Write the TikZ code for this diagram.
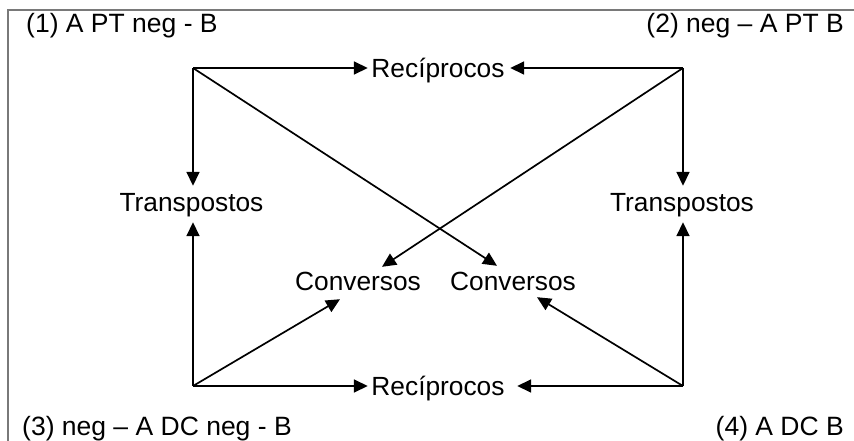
\documentclass[tikz,border=0pt]{standalone}
\usepackage{fontspec}
\setmainfont{Liberation Sans}
\usetikzlibrary{arrows.meta}
\tikzset{
  lbl/.style={font=\fontsize{26.3}{31}\selectfont, inner sep=0pt, text height=19pt, text depth=0pt},
  corner/.style={lbl, font=\fontsize{26.5}{31}\selectfont},
  arr/.style={-{Triangle[length=14pt,width=13pt]}, line width=1.7pt, black},
  frame/.style={draw=gray!95!black, line width=2pt}
}
\begin{document}
\begin{tikzpicture}[x=1pt,y=-1pt]
\useasboundingbox (0,0) rectangle (854,441);
\draw[frame] (8.3,441) -- (8.3,10) -- (854,10);
% corners
\coordinate (c1) at (193,68);
\coordinate (c2) at (683,68);
\coordinate (c3) at (193,386);
\coordinate (c4) at (683,386);
% corner labels
\node[corner, anchor=base west] (l1) at (26,33) {(1) A PT neg - B};
\node[corner, anchor=base east] (l2) at (844,33) {(2) neg – A PT B};
\node[corner, anchor=base west] (l3) at (22,435) {(3) neg – A DC neg - B};
\node[corner, anchor=base east] (l4) at (844,435) {(4) A DC B};
% inner labels
\node[lbl, anchor=base] (rt) at (438,77.5) {Recíprocos};
\node[lbl, anchor=base] (rb) at (438,395.5) {Recíprocos};
\node[lbl, anchor=base] (tl) at (191.5,211) {Transpostos};
\node[lbl, anchor=base] (tr) at (682,211) {Transpostos};
\node[lbl, anchor=base] (cl) at (358,290) {Conversos};
\node[lbl, anchor=base] (cr) at (513,290) {Conversos};
% connectors
\draw[arr] (c1) -- ([xshift=-3.5pt]rt.west);
\draw[arr] (c2) -- ([xshift=5.5pt]rt.east);
\draw[arr] (c3) -- ([xshift=-3.5pt]rb.west);
\draw[arr] (c4) -- ([xshift=12.5pt]rb.east);
\draw[arr] (c1) -- ([xshift=1.5pt,yshift=6pt]tl.north);
\draw[arr] (c3) -- ([xshift=1.5pt,yshift=-11pt]tl.south);
\draw[arr] (c2) -- ([xshift=1pt,yshift=6pt]tr.north);
\draw[arr] (c4) -- ([xshift=1pt,yshift=-11pt]tr.south);
\draw[arr] (c1) -- ([xshift=-16pt,yshift=5pt]cr.north);
\draw[arr] (c2) -- ([xshift=24pt,yshift=4pt]cl.north);
\draw[arr] (c3) -- ([xshift=-18pt,yshift=-9pt]cl.south);
\draw[arr] (c4) -- ([xshift=24pt,yshift=-7pt]cr.south);
\end{tikzpicture}
\end{document}
